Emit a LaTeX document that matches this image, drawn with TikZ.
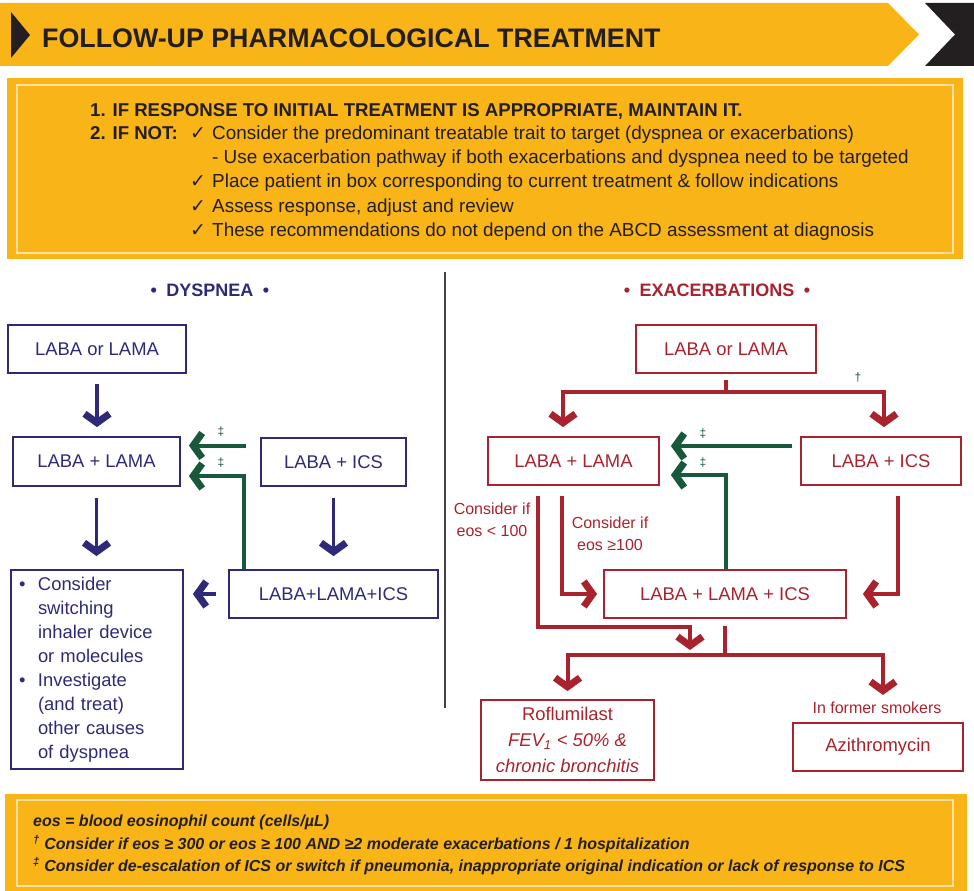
\documentclass[tikz,border=0pt]{standalone}
\usepackage{fontspec}
\setmainfont{Liberation Sans}
\newfontfamily\symfont{DejaVu Sans}
\usetikzlibrary{arrows.meta}

\definecolor{gyellow}{HTML}{F9B418}
\definecolor{gnavy}{HTML}{2E2A78}
\definecolor{gred}{HTML}{A8232D}
\definecolor{ggreen}{HTML}{17593A}
\definecolor{gink}{HTML}{231F20}

\newcommand{\chk}{\makebox[22pt][l]{\symfont ✓}}

\begin{document}
\begin{tikzpicture}[x=1pt,y=-1pt,
  every node/.style={font=\fontsize{18.4}{24}\selectfont, inner sep=0pt},
  txt/.style={anchor=base west, text=gink},
  dbox/.style={draw=gnavy, line width=1.8pt, text=gnavy, align=center},
  ebox/.style={draw=gred, line width=1.8pt, text=gred, align=center},
  elab/.style={text=gred, align=center, font=\fontsize{16}{22}\selectfont},
  dag/.style={text=ggreen, font=\fontsize{12}{14}\selectfont},
  pale/.style={draw=gyellow!40!white, line width=1.5pt},
  chevron/.tip={Straight Barb[length=9pt,width=25pt,line width=7pt 0 0]},
  narr/.style={draw=gnavy, line width=3.5pt, -chevron},
  rline/.style={draw=gred, line width=4pt},
  rarr/.style={rline, -chevron},
  garr/.style={draw=ggreen, line width=4pt, -chevron},
  ]
\useasboundingbox (0,0) rectangle (974,891);

% header band
\fill[gyellow] (0,3) -- (888,3) -- (919,34.5) -- (888,66) -- (0,66) -- cycle;
\fill[gink] (925,3) -- (974,3) -- (974,66) -- (925,66) -- (955,34.5) -- cycle;
\fill[gink] (11,12) -- (30,35) -- (11,58) -- cycle;
\node[txt, font=\fontsize{26.8}{30}\selectfont\bfseries] (H) at (42,47.5) {FOLLOW-UP PHARMACOLOGICAL TREATMENT};

% instructions
\fill[gyellow] (7,78) rectangle (963,259);
\draw[pale] (17,85) rectangle (953,253);
\node[txt, font=\fontsize{18.6}{24}\selectfont\bfseries] (T1) at (90,116) {1. IF RESPONSE TO INITIAL TREATMENT IS APPROPRIATE, MAINTAIN IT.};
\node[txt, font=\fontsize{18.6}{24}\selectfont\bfseries] (T2) at (90,139.5) {2. IF NOT:};
\node[txt, font=\fontsize{18.9}{24}\selectfont] (T3) at (190,139.5) {\chk Consider the predominant treatable trait to target (dyspnea or exacerbations)};
\node[txt, font=\fontsize{18.9}{24}\selectfont] (T4) at (212,163) {- Use exacerbation pathway if both exacerbations and dyspnea need to be targeted};
\node[txt, font=\fontsize{18.9}{24}\selectfont] (T5) at (190,187.5) {\chk Place patient in box corresponding to current treatment \& follow indications};
\node[txt, font=\fontsize{18.9}{24}\selectfont] (T6) at (190,212) {\chk Assess response, adjust and review};
\node[txt, font=\fontsize{18.9}{24}\selectfont] (T7) at (190,236) {\chk These recommendations do not depend on the ABCD assessment at diagnosis};

% titles and divider
\node[text=gnavy, font=\fontsize{18}{20}\selectfont\bfseries] (DT) at (210,290) {•\hspace{9.5pt}DYSPNEA\hspace{9.5pt}•};
\node[text=gred, font=\fontsize{18}{20}\selectfont\bfseries] (ET) at (717,290) {•\hspace{9.5pt}EXACERBATIONS\hspace{9.5pt}•};
\draw[gink!85, line width=1.2pt] (445,272) -- (445,708);

% dyspnea
\node[dbox, minimum width=178pt, minimum height=48pt] (D1) at (97,349) {LABA or LAMA};
\node[dbox, minimum width=167pt, minimum height=49pt] (D2) at (96.5,461.5) {LABA + LAMA};
\node[dbox, minimum width=145pt, minimum height=48pt] (D3) at (333.5,462) {LABA + ICS};
\node[dbox, minimum width=209pt, minimum height=48pt] (D4) at (333.5,594) {LABA+LAMA+ICS};
\node[dbox, align=left, text width=160pt, inner xsep=6pt, minimum height=199pt] (D5) at (97,669.5)
  {\makebox[21pt][l]{\hspace{2pt}•}Consider\\\hspace*{21pt}switching\\\hspace*{21pt}inhaler device\\\hspace*{21pt}or molecules\\
   \makebox[21pt][l]{\hspace{2pt}•}Investigate\\\hspace*{21pt}(and treat)\\\hspace*{21pt}other causes\\\hspace*{21pt}of dyspnea};

\draw[narr, shorten <=10pt, shorten >=9pt] (D1.south) -- (D1.south |- D2.north);
\draw[narr, shorten <=11pt, shorten >=13pt] (D2.south) -- (D2.south |- D5.north);
\draw[narr, shorten <=11pt, shorten >=13pt] (D3.south) -- (D4.north);
\draw[narr, shorten <=12pt, shorten >=9pt] (D4.west) -- (D4.west -| D5.east);

\draw[garr, shorten <=14pt, shorten >=8pt] ([yshift=16.5pt]D3.west) -- ([yshift=16.5pt]D3.west -| D2.east);
\draw[garr, shorten >=8pt] ([xshift=-89.5pt]D4.north) |- ([yshift=-14.5pt]D2.east);
\node[dag] (DG1) at (221,432) {‡};
\node[dag] (DG2) at (221,463) {‡};

% exacerbations
\node[ebox, minimum width=180pt, minimum height=48pt] (E1) at (726,349) {LABA or LAMA};
\node[ebox, minimum width=171pt, minimum height=48pt] (E2) at (573.5,461) {LABA + LAMA};
\node[ebox, minimum width=160pt, minimum height=48pt] (E3) at (881,461) {LABA + ICS};
\node[ebox, minimum width=242pt, minimum height=48pt] (E4) at (725,594) {LABA + LAMA + ICS};
\node[ebox, minimum width=173pt, minimum height=80pt, font=\fontsize{18.4}{26}\selectfont] (E5) at (567.5,740)
  {Roflumilast\\\textit{FEV\textsubscript{1} < 50\% \&}\\\textit{chronic bronchitis}};
\node[ebox, minimum width=170pt, minimum height=48pt] (E6) at (878,747) {Azithromycin};
\node[elab] (E6l) at (877,708) {In former smokers};
\node[elab] (L1) at (492,520) {Consider if\\eos < 100};
\node[elab] (L2) at (610,534) {Consider if\\eos ≥100};

\coordinate (Ef) at (726,392);
\coordinate (Ec) at (690,627);
\coordinate (Et) at (690,650);
\coordinate (Eg) at (725,655);

\draw[rline] ([yshift=-6pt]E1.south) -- (Ef);
\draw[rarr, shorten >=9pt] (Ef) -| ([xshift=-10.5pt]E2.north);
\draw[rarr, shorten >=9pt] (Ef) -| ([xshift=3pt]E3.north);
\node[dag] (EG0) at (858,378) {†};

\draw[garr, shorten <=8pt, shorten >=11pt] ([yshift=15pt]E3.west) -- ([yshift=15pt]E3.west -| E2.east);
\draw[garr, shorten >=11pt] ([xshift=1pt]E4.north) |- ([yshift=-14pt]E2.east);
\node[dag] (EG1) at (703,434) {‡};
\node[dag] (EG2) at (703,463) {‡};

\draw[rarr, shorten <=10pt, shorten >=6pt] ([xshift=-11.5pt]E2.south) |- (E4.west);
\draw[rarr, shorten <=10pt, shorten >=16pt] ([xshift=17pt]E3.south) |- (E4.east);
\draw[rarr, shorten <=10pt] ([xshift=-35.5pt]E2.south) |- (Ec) -- (Et);
\draw[rline] ([yshift=-7pt]E4.south) -- (Eg);
\draw[rarr, shorten >=8pt] (Eg) -| (E5.north);
\draw[rarr, shorten >=7pt] (Eg) -| ([xshift=6pt]E6l.north);

% footnotes
\fill[gyellow] (5,794) rectangle (967,891);
\draw[pale] (17,800) rectangle (953,886);
\node[txt, font=\fontsize{16}{18}\selectfont\bfseries\itshape] (F1) at (33,826) {eos = blood eosinophil count (cells/µL)};
\node[txt, font=\fontsize{16}{18}\selectfont\bfseries\itshape] (F2) at (33,849.5) {\textsuperscript{†} Consider if eos ≥ 300 or eos ≥ 100 AND ≥2 moderate exacerbations / 1 hospitalization};
\node[txt, font=\fontsize{16}{18}\selectfont\bfseries\itshape] (F3) at (33,871.5) {\textsuperscript{‡} Consider de-escalation of ICS or switch if pneumonia, inappropriate original indication or lack of response to ICS};
\end{tikzpicture}
\end{document}
